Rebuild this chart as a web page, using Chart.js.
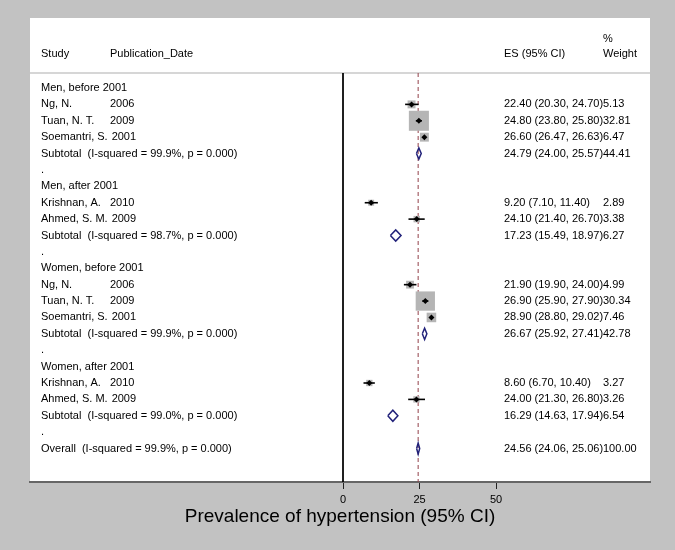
<!DOCTYPE html>
<html>
<head>
<meta charset="utf-8">
<title>Prevalence of hypertension - forest plot</title>
<script src="https://cdn.jsdelivr.net/npm/chart.js@4.4.1/dist/chart.umd.min.js"></script>
<style>
    html, body { margin: 0; padding: 0; background: #c2c2c2; }
    #forest { display: block; }
</style>
</head>
<body>
<canvas id="forest" width="675" height="550"></canvas>
<script>
// Subgroups
var groupNames = ['Men, before 2001', 'Men, after 2001', 'Women, before 2001', 'Women, after 2001'];

// Individual studies
var studyGroup  = [0, 0, 0, 1, 1, 2, 2, 2, 3, 3];
var studyNames  = ['Ng, N.', 'Tuan, N. T.', 'Soemantri, S.', 'Krishnan, A.', 'Ahmed, S. M.',
                   'Ng, N.', 'Tuan, N. T.', 'Soemantri, S.', 'Krishnan, A.', 'Ahmed, S. M.'];
var studyYears  = ['2006', '2009', '2001', '2010', '2009', '2006', '2009', '2001', '2010', '2009'];
var studyES     = [22.40, 24.80, 26.60, 9.20, 24.10, 21.90, 26.90, 28.90, 8.60, 24.00];
var studyLower  = [20.30, 23.80, 26.47, 7.10, 21.40, 19.90, 25.90, 28.80, 6.70, 21.30];
var studyUpper  = [24.70, 25.80, 26.63, 11.40, 26.70, 24.00, 27.90, 29.02, 10.40, 26.80];
var studyWeight = ['5.13', '32.81', '6.47', '2.89', '3.38', '4.99', '30.34', '7.46', '3.27', '3.26'];

// Subgroup pooled estimates
var subI2     = ['99.9%', '98.7%', '99.9%', '99.0%'];
var subES     = [24.79, 17.23, 26.67, 16.29];
var subLower  = [24.00, 15.49, 25.92, 14.63];
var subUpper  = [25.57, 18.97, 27.41, 17.94];
var subWeight = ['44.41', '6.27', '42.78', '6.54'];

// Overall pooled estimate
var overallI2 = '99.9%';
var overallES = 24.56, overallLower = 24.06, overallUpper = 25.06, overallWeight = '100.00';

// Axis
var xTicks = [0, 25, 50];
var xTitle = 'Prevalence of hypertension (95% CI)';

// Build the row layout (top to bottom)
var rows = [];
groupNames.forEach(function(g, gi) {
    rows.push({ kind: 'group', label: g });
    studyGroup.forEach(function(sg, si) {
        if (sg === gi) rows.push({ kind: 'study', idx: si });
    });
    rows.push({ kind: 'sub', idx: gi });
    rows.push({ kind: 'dot' });
});
rows.push({ kind: 'overall' });

var FONT = '"Liberation Sans", Arial, Helvetica, sans-serif';
var DIAMOND_HALF = 0.34;   // half height of pooled diamonds, in rows
var BOX_SCALE = 3.5;       // box side = BOX_SCALE * sqrt(weight) px

function rowOf(kind, idx) {
    for (var i = 0; i < rows.length; i++) {
        if (rows[i].kind === kind && (idx === undefined || rows[i].idx === idx)) return i;
    }
    return -1;
}

function esText(es, lo, hi) {
    return es.toFixed(2) + ' (' + lo.toFixed(2) + ', ' + hi.toFixed(2) + ')';
}

// Datasets
var datasets = [];

// point estimates
datasets.push({
    data: studyES.map(function(v, i) { return { x: v, y: rowOf('study', i) }; }),
    pointStyle: 'rectRot', pointRadius: 3, pointBackgroundColor: '#000', pointBorderColor: '#000', pointBorderWidth: 0
});

// confidence intervals
studyES.forEach(function(v, i) {
    var r = rowOf('study', i);
    datasets.push({
        data: [{ x: studyLower[i], y: r }, { x: studyUpper[i], y: r }],
        showLine: true, borderColor: '#000', borderWidth: 1.6, pointRadius: 0
    });
});

// weight boxes
datasets.push({
    data: studyES.map(function(v, i) { return { x: v, y: rowOf('study', i) }; }),
    pointStyle: 'rect',
    pointRadius: studyWeight.map(function(w) { return BOX_SCALE * Math.sqrt(parseFloat(w)) / Math.SQRT2; }),
    pointBackgroundColor: '#b5b5b5', pointBorderWidth: 0
});

// pooled diamonds
function diamond(es, lo, hi, r) {
    return [{ x: lo, y: r }, { x: es, y: r - DIAMOND_HALF }, { x: hi, y: r }, { x: es, y: r + DIAMOND_HALF }, { x: lo, y: r }];
}
subES.forEach(function(v, i) {
    datasets.push({
        data: diamond(v, subLower[i], subUpper[i], rowOf('sub', i)),
        showLine: true, borderColor: '#22227a', borderWidth: 1.5, pointRadius: 0, fill: false, tension: 0
    });
});
datasets.push({
    data: diamond(overallES, overallLower, overallUpper, rowOf('overall')),
    showLine: true, borderColor: '#22227a', borderWidth: 1.5, pointRadius: 0, fill: false, tension: 0
});

var yMin = -0.915, yMax = 24.04;

// overall effect dashed line
datasets.push({
    data: [{ x: overallES, y: yMin }, { x: overallES, y: yMax }],
    showLine: true, borderColor: '#93404a', borderWidth: 1, borderDash: [4, 3], pointRadius: 0
});

// null line at 0
datasets.push({
    data: [{ x: 0, y: yMin }, { x: 0, y: yMax }],
    showLine: true, borderColor: '#000', borderWidth: 1, pointRadius: 0
});

// Background panel and header
var panelPlugin = {
    id: 'panel',
    beforeDraw: function(chart) {
        var ctx = chart.ctx, area = chart.chartArea;
        ctx.save();
        ctx.fillStyle = '#c2c2c2';
        ctx.fillRect(0, 0, chart.width, chart.height);
        ctx.fillStyle = '#fff';
        ctx.fillRect(area.left, 18, area.right - area.left, area.bottom - 18);
        // header separator
        ctx.strokeStyle = '#d6d6d6';
        ctx.lineWidth = 2;
        ctx.beginPath();
        ctx.moveTo(area.left, area.top);
        ctx.lineTo(area.right, area.top);
        ctx.stroke();
        // header text
        ctx.fillStyle = '#000';
        ctx.font = '11px ' + FONT;
        ctx.textBaseline = 'middle';
        ctx.textAlign = 'left';
        ctx.fillText('Study', 41, 54);
        ctx.fillText('Publication_Date', 110, 54);
        ctx.fillText('ES (95% CI)', 504, 54);
        ctx.fillText('%', 603, 39);
        ctx.fillText('Weight', 603, 54);
        ctx.restore();
    }
};

// Row texts
var rowTextPlugin = {
    id: 'rowText',
    afterDatasetsDraw: function(chart) {
        var ctx = chart.ctx, y = chart.scales.y;
        ctx.save();
        ctx.fillStyle = '#000';
        ctx.font = '11px ' + FONT;
        ctx.textBaseline = 'middle';
        ctx.textAlign = 'left';
        rows.forEach(function(row, r) {
            var py = y.getPixelForValue(r);
            if (row.kind === 'group') {
                ctx.fillText(row.label, 41, py);
            } else if (row.kind === 'study') {
                var i = row.idx;
                var name = studyNames[i];
                ctx.fillText(name, 41, py);
                var yx = Math.max(110, 41 + ctx.measureText(name).width + 4);
                ctx.fillText(studyYears[i], yx, py);
                ctx.fillText(esText(studyES[i], studyLower[i], studyUpper[i]), 504, py);
                ctx.fillText(studyWeight[i], 603, py);
            } else if (row.kind === 'sub') {
                var j = row.idx;
                ctx.fillText('Subtotal  (I-squared = ' + subI2[j] + ', p = 0.000)', 41, py);
                ctx.fillText(esText(subES[j], subLower[j], subUpper[j]), 504, py);
                ctx.fillText(subWeight[j], 603, py);
            } else if (row.kind === 'dot') {
                ctx.fillText('.', 41, py);
            } else if (row.kind === 'overall') {
                ctx.fillText('Overall  (I-squared = ' + overallI2 + ', p = 0.000)', 41, py);
                ctx.fillText(esText(overallES, overallLower, overallUpper), 504, py);
                ctx.fillText(overallWeight, 603, py);
            }
        });
        ctx.restore();
    }
};

var pxPerUnit = 3.06, zeroPx = 343, areaLeft = 30, areaRight = 650;

new Chart(document.getElementById('forest'), {
    type: 'scatter',
    data: { datasets: datasets },
    options: {
        responsive: false,
        animation: false,
        devicePixelRatio: 1,
        layout: { padding: { left: areaLeft, right: 675 - areaRight, top: 73, bottom: 0 } },
        plugins: { legend: { display: false }, tooltip: { enabled: false } },
        scales: {
            x: {
                type: 'linear',
                min: -(zeroPx - areaLeft) / pxPerUnit,
                max: (areaRight - zeroPx) / pxPerUnit,
                afterBuildTicks: function(s) { s.ticks = xTicks.map(function(v) { return { value: v }; }); },
                afterFit: function(s) { s.height = 68; },
                grid: { drawOnChartArea: false, drawTicks: true, tickLength: 7, tickColor: '#222', tickWidth: 1 },
                border: { display: true, color: '#666', width: 2 },
                ticks: { color: '#000', font: { size: 11, family: FONT }, padding: 4, maxRotation: 0, autoSkip: false },
                title: { display: true, text: xTitle, color: '#000', font: { size: 19, family: FONT }, padding: { top: 0, bottom: 22 } }
            },
            y: {
                type: 'linear', display: false, reverse: true, min: yMin, max: yMax
            }
        }
    },
    plugins: [panelPlugin, rowTextPlugin]
});
</script>
</body>
</html>
